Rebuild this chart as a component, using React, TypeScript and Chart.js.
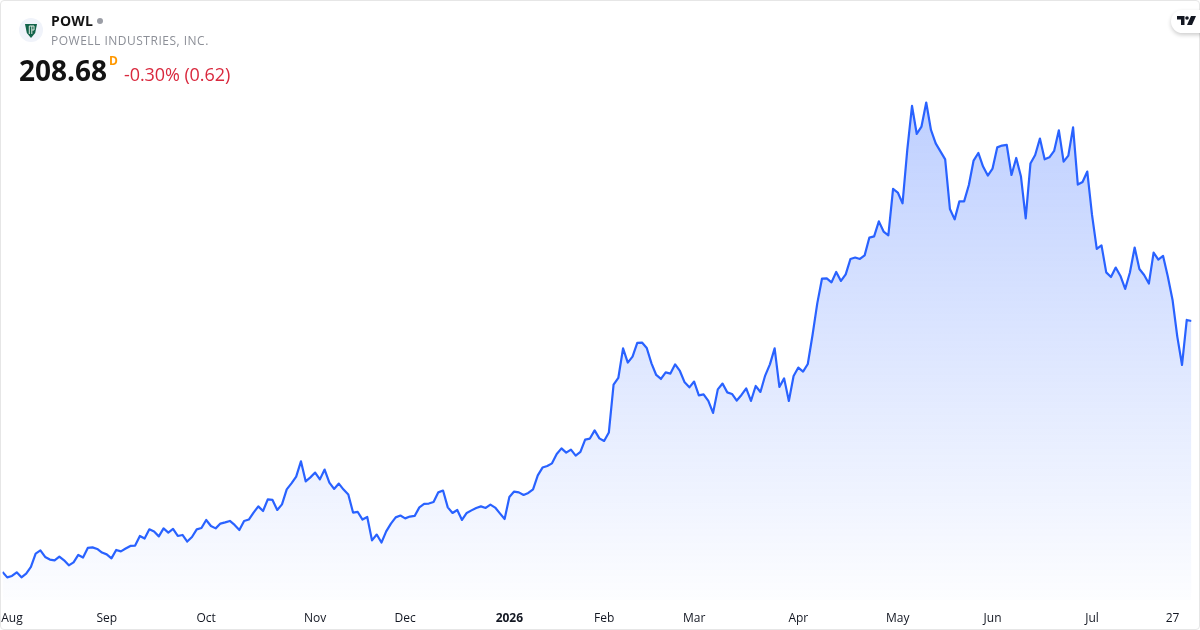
import React, { useEffect, useRef } from "react";
import { Chart, registerables } from "chart.js";

Chart.register(...registerables);

const closes: number[] = [
  83.2, 80.5, 81.2, 83.0, 80.5, 82.4, 85.7, 92.4, 94.0, 90.7, 89.4, 89.0, 90.9, 89.0, 86.5, 88.0, 91.7, 90.4, 95.2, 95.5,
  94.7, 92.9, 92.0, 90.0, 94.2, 93.5, 94.9, 96.2, 96.4, 101.2, 99.9, 104.5, 103.4, 101.0, 105.0, 102.9, 104.7, 101.2, 101.7, 98.4,
  100.7, 104.5, 105.2, 109.2, 106.2, 105.0, 107.4, 108.0, 108.7, 106.7, 104.2, 108.7, 109.4, 112.9, 116.0, 113.7, 119.5, 119.2, 114.2, 117.0,
  124.5, 127.5, 130.9, 138.5, 128.5, 130.5, 132.9, 129.5, 134.4, 127.9, 124.7, 127.4, 124.4, 121.9, 112.9, 113.2, 109.4, 110.7, 99.0, 101.9,
  97.9, 103.5, 107.4, 110.5, 111.4, 110.0, 110.9, 111.2, 115.5, 117.2, 117.4, 118.2, 123.0, 123.9, 115.5, 112.7, 114.2, 109.2, 112.7, 114.0,
  115.2, 116.0, 115.2, 116.9, 115.4, 112.5, 109.7, 120.7, 123.4, 123.0, 121.7, 122.7, 124.5, 131.5, 135.4, 136.2, 137.5, 142.2, 145.0, 142.9,
  144.4, 141.4, 143.2, 149.4, 149.9, 154.0, 150.0, 148.7, 152.9, 176.9, 180.2, 195.0, 187.9, 190.9, 197.7, 197.9, 195.2, 187.5, 181.7, 179.7,
  183.0, 182.4, 187.0, 183.7, 178.0, 175.5, 178.4, 171.5, 172.0, 168.7, 162.7, 174.5, 177.4, 173.0, 172.2, 168.9, 171.7, 175.0, 168.7, 176.2,
  173.2, 181.4, 187.0, 195.0, 175.7, 180.0, 168.7, 181.2, 185.4, 183.4, 187.2, 201.7, 217.5, 229.9, 230.0, 228.0, 233.2, 228.7, 232.0, 239.7,
  240.4, 239.7, 241.5, 250.4, 251.0, 258.5, 253.4, 251.5, 274.7, 272.9, 267.5, 294.2, 316.2, 302.2, 305.9, 317.9, 304.2, 297.5, 293.5, 289.5,
  264.7, 259.5, 268.5, 268.5, 276.7, 288.9, 292.7, 285.9, 281.4, 284.9, 295.5, 296.4, 296.7, 281.7, 290.2, 280.9, 260.0, 287.4, 291.7, 299.9,
  289.5, 290.5, 293.7, 304.0, 288.4, 291.4, 305.5, 276.9, 278.2, 283.4, 261.7, 244.7, 246.5, 233.0, 230.7, 235.4, 231.2, 224.7, 232.9, 245.4,
  234.7, 231.7, 227.4, 242.9, 239.4, 241.2, 230.9, 219.2, 200.9, 186.7, 209.2, 208.68,
];

const sessionIndexes: number[] = closes.map((_, i) => i);
const tickLabels: string[] = ["Aug", "Sep", "Oct", "Nov", "Dec", "2026", "Feb", "Mar", "Apr", "May", "Jun", "Jul", "27"];
const tickSessions: number[] = [2, 22, 43, 66, 85, 107, 127, 146, 168, 189, 209, 230, 247];
const boldTicks: string[] = ["2026"];

const FONT = '"Open Sans", "Noto Sans", sans-serif';

export default function App() {
  const ref = useRef<HTMLCanvasElement | null>(null);

  useEffect(() => {
    if (!ref.current) return;
    const labelFor = (v: number) => tickLabels[tickSessions.indexOf(v)] ?? "";
    const chart = new Chart(ref.current, {
      type: "line",
      data: {
        datasets: [
          {
            data: sessionIndexes.map((i) => ({ x: i, y: closes[i] })),
            borderColor: "#2962ff",
            borderWidth: 2.2,
            tension: 0,
            pointRadius: 0,
            borderJoinStyle: "round",
            fill: "start",
            backgroundColor: (ctx: any) => {
              const c = ctx.chart;
              if (!c.chartArea) return "rgba(41,98,255,0.2)";
              const y = c.scales.y;
              const g = c.ctx.createLinearGradient(0, y.getPixelForValue(Math.max(...closes)), 0, c.chartArea.bottom);
              g.addColorStop(0, "rgba(41,98,255,0.3)");
              g.addColorStop(1, "rgba(41,98,255,0.01)");
              return g;
            },
          },
        ],
      },
      options: {
        responsive: false,
        animation: false,
        devicePixelRatio: 1,
        parsing: false as any,
        normalized: true,
        layout: { padding: { left: 2.5, right: 8.5, top: 0, bottom: 0 } },
        plugins: { legend: { display: false }, tooltip: { enabled: false }, title: { display: false } },
        scales: {
          y: { display: false, min: 69.18, max: 369.18 },
          x: {
            type: "linear",
            min: 0,
            max: closes.length - 1,
            grid: { display: false, drawTicks: false },
            border: { display: false },
            afterBuildTicks: (axis: any) => {
              axis.ticks = tickSessions.map((value) => ({ value }));
            },
            afterFit: (axis: any) => {
              axis.height = 30;
              axis.paddingLeft = 0;
              axis.paddingRight = 0;
            },
            ticks: {
              autoSkip: false,
              maxRotation: 0,
              minRotation: 0,
              padding: 11,
              color: "#131722",
              font: (ctx: any) => ({
                family: FONT,
                size: 12,
                weight: boldTicks.includes(labelFor(ctx.tick?.value)) ? "bold" : "normal",
              }),
              callback: (v: any) => labelFor(Number(v)),
            },
          },
        },
      },
    } as any);
    return () => chart.destroy();
  }, []);

  const abs: React.CSSProperties = { position: "absolute", whiteSpace: "nowrap", fontFamily: FONT, lineHeight: 1 };

  return (
    <div style={{ position: "absolute", left: 0, top: 0, width: 1200, height: 630, overflow: "hidden", background: "#fff" }}>
      <canvas ref={ref} width={1200} height={630} style={{ position: "absolute", left: 0, top: 0, width: 1200, height: 630 }} />
      <div style={{ position: "absolute", inset: 0, boxSizing: "border-box", border: "1px solid #e6e6e6", borderRadius: 4, pointerEvents: "none" }} />

      <svg width="24" height="24" viewBox="0 0 24 24" style={{ position: "absolute", left: 19, top: 18 }}>
        <circle cx="12" cy="12" r="12" fill="#f0f3fa" />
        <path d="M6 6 H18 L16.2 15 L12 20 L7.8 15 Z" fill="#12634a" />
        <path d="M10.3 8 V16 M12.8 8 V16 M10.3 8 H15 V12 H12.8" stroke="#dfe9e2" strokeWidth="1" fill="none" />
      </svg>

      <span style={{ ...abs, left: 51, top: 14, fontSize: 14, fontWeight: 700, color: "#131313", letterSpacing: 0.2 }}>POWL</span>
      <span style={{ position: "absolute", left: 97, top: 18, width: 6, height: 6, borderRadius: 3, background: "#9b9ea6" }} />
      <span style={{ ...abs, left: 51, top: 35, fontSize: 12, color: "#8c8f97", letterSpacing: 0.5 }}>POWELL INDUSTRIES, INC.</span>
      <span style={{ ...abs, left: 19, top: 56, fontSize: 28, fontWeight: 700, color: "#131313" }}>208.68</span>
      <span style={{ ...abs, left: 109, top: 55, fontSize: 12, fontWeight: 700, color: "#ff9800" }}>D</span>
      <span style={{ ...abs, left: 124, top: 65, fontSize: 18, color: "#d9293e", letterSpacing: -0.08 }}>-0.30% (0.62)</span>

      <div style={{ position: "absolute", left: 1171, top: 10, width: 40, height: 23, borderRadius: 12, background: "#fff", boxShadow: "0 2px 4px rgba(0,0,0,0.2)" }} />
      <svg width="20" height="10" viewBox="0 0 20 10" style={{ position: "absolute", left: 1177, top: 16 }}>
        <path d="M0 0 H7.5 V9 H4 V3.5 H0 Z" fill="#131722" />
        <circle cx="10" cy="2" r="1.8" fill="#131722" />
        <path d="M14 0 H19 L15 9 H10 Z" fill="#131722" />
      </svg>
    </div>
  );
}
